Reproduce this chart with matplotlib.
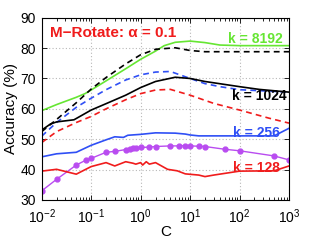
import matplotlib
matplotlib.use("Agg")
import matplotlib.pyplot as plt
import numpy as np

plt.rcParams['font.family'] = ['Liberation Sans', 'DejaVu Sans']
plt.rcParams['mathtext.fontset'] = 'custom'
plt.rcParams['mathtext.rm'] = 'Liberation Sans'
plt.rcParams['mathtext.it'] = 'Liberation Sans:italic'
plt.rcParams['mathtext.bf'] = 'Liberation Sans:bold'

# ---- data ----
c_green = [0.01, 0.02, 0.05, 0.075, 0.1, 0.2, 0.5, 1, 2, 3, 5, 10, 20, 40, 100, 1000]
v_green = [59.4, 61.4, 63.8, 65.0, 66.2, 69.2, 73.2, 76.3, 79.0, 80.8, 81.9, 82.3, 81.8, 81.0, 80.8, 80.8]

c_kdash = [0.01, 0.02, 0.05, 0.1, 0.2, 0.5, 1, 2, 5, 10, 20, 100, 1000]
v_kdash = [52.5, 56.5, 62.0, 66.5, 70.3, 74.8, 77.8, 79.6, 80.1, 79.2, 78.8, 78.8, 78.8]

c_bdash = [0.01, 0.02, 0.05, 0.1, 0.2, 0.5, 1, 2, 4, 10, 20, 40, 100, 1000]
v_bdash = [51.0, 55.5, 60.5, 63.5, 66.3, 69.5, 71.2, 72.1, 72.3, 70.0, 68.3, 67.3, 66.3, 65.5]

c_ksol = [0.01, 0.015, 0.02, 0.045, 0.1, 0.2, 0.5, 1, 2, 5, 10, 20, 100, 250, 1000]
v_ksol = [53.0, 55.0, 55.7, 56.4, 59.6, 61.7, 64.5, 67.0, 69.0, 70.4, 70.0, 69.0, 67.3, 66.4, 65.5]

c_rdash = [0.01, 0.02, 0.05, 0.1, 0.2, 0.5, 1, 2, 4, 10, 30, 100, 400, 1000]
v_rdash = [48.9, 52.5, 55.5, 57.5, 60.0, 63.0, 65.0, 66.2, 66.4, 64.5, 61.8, 59.6, 56.9, 55.3]

c_bsol = [0.01, 0.02, 0.05, 0.1, 0.2, 0.3, 0.45, 0.55, 1, 2, 5, 8, 10, 15, 30, 100, 500, 1000]
v_bsol = [44.2, 45.2, 45.7, 48.0, 49.8, 50.8, 50.6, 51.3, 51.6, 52.1, 52.0, 51.7, 51.4, 51.1, 51.1, 51.1, 51.1, 53.6]

c_purp = [0.01, 0.02, 0.05, 0.08, 0.1, 0.2, 0.3, 0.5, 0.6, 0.7, 0.8, 1, 1.5, 2, 4, 6, 8, 10, 15, 20, 50, 100, 500, 1000]
v_purp = [33.0, 36.8, 41.5, 43.2, 43.7, 45.7, 46.0, 46.6, 46.8, 47.0, 47.2, 47.3, 47.4, 47.6, 47.8, 47.8, 47.9, 47.8, 47.7, 47.6, 46.7, 46.2, 44.5, 43.2]

c_rsol = [0.01, 0.02, 0.05, 0.1, 0.2, 0.3, 0.5, 0.7, 0.8, 1, 1.1, 1.3, 1.5, 2, 3.5, 5.5, 8, 15, 20, 30, 100, 500, 1000]
v_rsol = [39.5, 40.1, 38.5, 41.0, 42.3, 41.2, 42.6, 42.1, 41.8, 42.3, 41.5, 42.6, 41.8, 42.3, 40.1, 39.6, 38.6, 38.2, 37.7, 38.2, 39.5, 39.6, 41.2]

yticks = [30, 40, 50, 60, 70, 80, 90]
title_text = "M\u2212Rotate: \u03b1 = 0.1"
labels = ["k = 8192", "k = 1024", "k = 256", "k = 128"]

GREEN = '#66e633'
BLUE = '#2f4ff5'
RED = '#f01c1c'
PURPLE = '#b94cf0'
BLACK = '#000000'

fig = plt.figure(figsize=(3.19, 2.40), dpi=100)
ax = fig.add_axes([0.1307, 0.1667, 0.7753, 0.7596])

lw = 1.2
ax.plot(c_green, v_green, '-', color=GREEN, lw=lw)
ax.plot(c_kdash, v_kdash, '--', color=BLACK, lw=lw, dashes=(3.5, 2.5))
ax.plot(c_bdash, v_bdash, '--', color=BLUE, lw=lw, dashes=(3.5, 2.5))
ax.plot(c_ksol, v_ksol, '-', color=BLACK, lw=lw)
ax.plot(c_rdash, v_rdash, '--', color=RED, lw=lw, dashes=(3.5, 2.5))
ax.plot(c_bsol, v_bsol, '-', color=BLUE, lw=lw)
ax.plot(c_purp, v_purp, '-', color=PURPLE, lw=1.0, marker='o', ms=3.5, mec=PURPLE, mfc=PURPLE)
ax.plot(c_rsol, v_rsol, '-', color=RED, lw=lw)

ax.set_xscale('log')
ax.set_xlim(0.01, 1000)
ax.set_ylim(30, 90)
ax.set_yticks(yticks)
ax.set_xticks([1e-2, 1e-1, 1e0, 1e1, 1e2, 1e3])

ax.grid(True, which='major', linestyle=(0, (1, 2)), color='#b8b8b8', lw=0.8)
ax.tick_params(which='both', direction='in', top=True, right=True, labelsize=10, width=0.6)
ax.tick_params(which='major', length=3.5)
ax.tick_params(which='minor', length=2)
ax.tick_params(axis='x', pad=5.5)
ax.tick_params(axis='y', pad=4)
for s in ax.spines.values():
    s.set_linewidth(0.8)

ax.set_xlabel('C', fontsize=11, labelpad=-1)
ax.set_ylabel('Accuracy (%)', fontsize=11, labelpad=2)

ax.text(0.034, 0.892, title_text, transform=ax.transAxes, color=RED,
        fontsize=11, fontweight='bold', va='baseline', ha='left')
ax.text(0.753, 0.860, labels[0], transform=ax.transAxes, color=GREEN,
        fontsize=10, fontweight='bold', va='baseline', ha='left')
ax.text(0.7695, 0.5486, labels[1], transform=ax.transAxes, color=BLACK,
        fontsize=10, fontweight='bold', va='baseline', ha='left')
ax.text(0.772, 0.347, labels[2], transform=ax.transAxes, color=BLUE,
        fontsize=10, fontweight='bold', va='baseline', ha='left')
ax.text(0.774, 0.155, labels[3], transform=ax.transAxes, color=RED,
        fontsize=10, fontweight='bold', va='baseline', ha='left')

fig.savefig('out.png', dpi=100)
